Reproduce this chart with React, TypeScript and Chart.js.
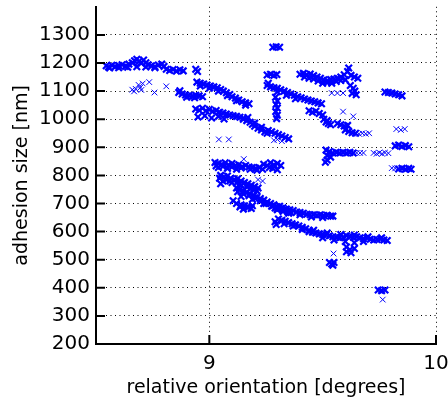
import React, { useEffect, useRef } from "react";
import { Chart, registerables } from "chart.js";

Chart.register(...registerables);

type P = [number, number];

const xTickValues = [9, 10];
const yTickValues = [200, 300, 400, 500, 600, 700, 800, 900, 1000, 1100, 1200, 1300];

// dense clusters (heavily overlapping measurements)
const bandA: P[] = [
  [8.545, 1190], [8.555, 1186], [8.57, 1192], [8.585, 1187], [8.6, 1191], [8.615, 1194], [8.63, 1188],
  [8.645, 1196], [8.66, 1201], [8.67, 1208], [8.68, 1213], [8.69, 1206], [8.7, 1199], [8.71, 1211],
  [8.72, 1201], [8.73, 1194], [8.745, 1190], [8.76, 1187], [8.775, 1193], [8.79, 1196], [8.8, 1188],
  [8.56, 1182], [8.6, 1183], [8.64, 1185], [8.68, 1187], [8.72, 1186], [8.76, 1183],
  [8.81, 1178], [8.825, 1173], [8.84, 1177], [8.855, 1171], [8.87, 1176], [8.885, 1172],
  [8.94, 1178], [8.948, 1170],
];
const bandB: P[] = [
  [8.865, 1095], [8.88, 1090], [8.895, 1086], [8.91, 1084], [8.925, 1082], [8.94, 1085], [8.955, 1083],
  [8.97, 1080], [8.87, 1101], [8.9, 1078], [8.935, 1076],
];
const bandC: P[] = [
  [8.945, 1132], [8.96, 1128], [8.975, 1125], [8.99, 1122], [9.005, 1118], [9.02, 1115], [9.035, 1112],
  [9.05, 1106], [9.062, 1100], [9.075, 1094], [9.09, 1088], [9.1, 1080], [9.115, 1075], [9.13, 1068],
  [9.145, 1062], [9.16, 1058], [9.175, 1055], [8.96, 1118], [9.0, 1110], [9.04, 1100], [9.08, 1084],
  [9.12, 1066], [9.16, 1050],
];
const bandD: P[] = [
  [8.94, 1036], [8.955, 1032], [8.97, 1039], [8.985, 1030], [9.0, 1035], [9.015, 1028], [9.03, 1031],
  [9.045, 1025], [9.06, 1022], [9.075, 1018], [9.09, 1015], [9.105, 1012], [9.12, 1010], [9.135, 1007],
  [9.15, 1004], [8.95, 1008], [8.98, 1012], [9.01, 1004], [9.04, 1010], [9.065, 1001],
];
const bandE: P[] = [
  [9.15, 1000], [9.165, 995], [9.18, 989], [9.19, 982], [9.2, 975], [9.215, 968], [9.23, 962],
  [9.245, 955], [9.255, 950], [9.17, 1006], [9.2, 986], [9.23, 971],
];
const bandF: P[] = [
  [9.26, 960], [9.275, 955], [9.29, 950], [9.305, 945], [9.32, 940], [9.335, 935], [9.35, 930],
];
const columnG: P[] = [
  [9.292, 1078], [9.3, 1065], [9.294, 1052], [9.3, 1040], [9.293, 1027], [9.3, 1014], [9.297, 1002],
  [9.255, 1157], [9.27, 1160], [9.285, 1156], [9.298, 1159], [9.28, 1256], [9.295, 1258], [9.31, 1256],
];
const bandG: P[] = [
  [9.255, 1120], [9.27, 1115], [9.285, 1112], [9.3, 1110], [9.315, 1105], [9.33, 1100], [9.345, 1095],
  [9.36, 1090], [9.375, 1085], [9.39, 1080], [9.405, 1076], [9.42, 1072], [9.435, 1068], [9.45, 1065],
  [9.465, 1062], [9.48, 1058], [9.495, 1055], [9.3, 1098], [9.34, 1085], [9.38, 1073], [9.26, 1128],
];
const bandH: P[] = [
  [9.4, 1160], [9.415, 1163], [9.43, 1158], [9.445, 1161], [9.46, 1155], [9.475, 1150], [9.49, 1146],
  [9.505, 1140], [9.52, 1138], [9.535, 1141], [9.55, 1143], [9.565, 1146], [9.58, 1150], [9.595, 1158],
  [9.61, 1170], [9.615, 1182], [9.625, 1156], [9.64, 1150], [9.655, 1146], [9.44, 1146], [9.48, 1136],
  [9.52, 1130], [9.56, 1134], [9.6, 1140],
  [9.42, 1150], [9.46, 1143], [9.5, 1128], [9.54, 1128], [9.58, 1138],
  [9.622, 1120], [9.635, 1110], [9.642, 1100], [9.63, 1092], [9.648, 1087],
];
const bandI: P[] = [
  [9.775, 1097], [9.79, 1095], [9.805, 1093], [9.82, 1090], [9.835, 1087], [9.85, 1083],
];
const bandJ: P[] = [
  [9.44, 1030], [9.455, 1025], [9.47, 1028], [9.485, 1020], [9.5, 1015], [9.505, 1000], [9.515, 990],
  [9.525, 985], [9.535, 980], [9.52, 995],
];
const bandK: P[] = [
  [9.565, 985], [9.58, 980], [9.595, 976], [9.61, 978], [9.6, 962], [9.615, 956], [9.63, 952],
  [9.645, 950],
];
const bandL: P[] = [
  [9.82, 905], [9.835, 908], [9.85, 903], [9.865, 906], [9.88, 902],
];
const bandM: P[] = [
  [9.515, 890], [9.53, 885], [9.545, 880], [9.52, 870], [9.535, 865], [9.52, 855], [9.512, 847],
  [9.56, 882], [9.575, 880], [9.59, 882], [9.605, 880], [9.62, 882], [9.635, 880],
];
const bandO: P[] = [
  [9.835, 823], [9.85, 825], [9.865, 822], [9.88, 825], [9.89, 822],
];
const bandQ: P[] = [
  [9.025, 846], [9.04, 842], [9.055, 840], [9.07, 845], [9.085, 838], [9.1, 842], [9.115, 835],
  [9.13, 838], [9.145, 832], [9.16, 835], [9.175, 830], [9.19, 828], [9.205, 825], [9.22, 828],
  [9.235, 822], [9.04, 828], [9.08, 825], [9.12, 822], [9.24, 840], [9.255, 835], [9.27, 845],
  [9.285, 838], [9.3, 842], [9.315, 835], [9.28, 825], [9.265, 828], [9.3, 820],
  [9.03, 834], [9.06, 832], [9.1, 830], [9.14, 826], [9.18, 822], [9.21, 818],
];
const bandR: P[] = [
  [9.05, 800], [9.065, 795], [9.08, 798], [9.095, 790], [9.11, 785], [9.125, 788], [9.14, 780],
  [9.155, 775], [9.17, 770], [9.185, 765], [9.2, 760], [9.215, 755], [9.06, 780], [9.1, 775],
  [9.14, 765], [9.18, 752], [9.05, 770],
  [9.045, 790], [9.075, 785], [9.09, 780], [9.12, 773], [9.135, 770], [9.165, 760], [9.195, 750],
  [9.21, 745],
];
const bandS: P[] = [
  [9.12, 755], [9.135, 750], [9.15, 745], [9.165, 740], [9.18, 735], [9.195, 728], [9.21, 722],
  [9.225, 718], [9.24, 712], [9.255, 705], [9.27, 700], [9.285, 695], [9.3, 688], [9.315, 682],
  [9.33, 678], [9.345, 672], [9.36, 668], [9.15, 735], [9.2, 720], [9.25, 700], [9.3, 680], [9.35, 665],
  [9.125, 742], [9.175, 728], [9.225, 710], [9.275, 690], [9.325, 672],
  [9.14, 725], [9.19, 715], [9.24, 700], [9.29, 684],
  [9.105, 710], [9.12, 700], [9.14, 695], [9.155, 692], [9.17, 690], [9.19, 692], [9.135, 688],
  [9.15, 680], [9.17, 685], [9.185, 682],
];
const bandT: P[] = [
  [9.28, 692], [9.295, 688], [9.31, 690], [9.325, 685], [9.34, 680], [9.355, 678], [9.37, 675],
  [9.385, 670], [9.4, 668], [9.415, 665], [9.43, 662], [9.445, 660], [9.46, 660], [9.475, 658],
  [9.49, 660], [9.505, 657], [9.52, 658], [9.535, 655], [9.545, 655],
  [9.3, 678], [9.35, 668], [9.4, 660], [9.45, 652], [9.5, 650],
];
const bandU: P[] = [
  [9.29, 635], [9.295, 625], [9.305, 645], [9.32, 640], [9.335, 637], [9.35, 632], [9.365, 628],
  [9.38, 624], [9.395, 620], [9.41, 615], [9.425, 610], [9.44, 605],
  [9.33, 628], [9.37, 620], [9.41, 608],
];
const bandV: P[] = [
  [9.44, 600], [9.455, 598], [9.47, 595], [9.485, 592], [9.5, 590], [9.515, 588], [9.53, 585],
  [9.545, 582], [9.56, 580], [9.575, 578], [9.59, 580], [9.605, 585], [9.62, 583], [9.635, 580],
  [9.65, 582], [9.665, 578], [9.68, 575], [9.695, 577], [9.71, 573], [9.725, 570], [9.74, 572],
  [9.755, 574], [9.77, 570], [9.785, 568], [9.5, 578], [9.55, 570], [9.6, 565], [9.64, 560], [9.68, 565],
  [9.46, 605], [9.52, 595], [9.58, 590], [9.64, 588], [9.7, 582], [9.76, 578],
];
const lowPoints: P[] = [
  [9.605, 545], [9.62, 535], [9.64, 540], [9.625, 525], [9.605, 528],
  [9.53, 490], [9.54, 485], [9.55, 490], [9.545, 480],
  [9.745, 392], [9.76, 390], [9.775, 392],
];

// isolated single measurements
const sparseCrosses: P[] = [
  [8.66, 1105], [8.668, 1099], [8.675, 1108], [8.688, 1122], [8.695, 1112], [8.7, 1104], [8.706, 1127],
  [8.735, 1132], [8.758, 1095], [8.81, 1117],
  [9.54, 1093], [9.565, 1093], [9.59, 1093],
  [9.042, 928], [9.086, 928], [9.285, 925], [9.3, 928], [9.32, 922],
  [9.59, 1027], [9.635, 1010],
  [9.548, 522], [9.765, 358],
  [9.66, 948], [9.675, 950], [9.69, 948], [9.705, 950],
  [9.65, 880], [9.665, 880], [9.68, 880],
  [9.725, 880], [9.738, 877], [9.75, 881], [9.762, 877], [9.775, 881], [9.79, 879],
  [9.805, 826], [9.82, 825],
  [9.825, 965], [9.845, 962], [9.862, 965],
  [9.152, 858], [9.215, 785], [9.235, 780],
];

const denseGroups: P[][] = [
  bandA, bandB, bandC, bandD, bandE, bandF, columnG, bandG, bandH, bandI, bandJ,
  bandK, bandL, bandM, bandO, bandQ, bandR, bandS, bandT, bandU, bandV, lowPoints,
];

const FONT = "'DejaVu Sans', sans-serif";
const BLUE = "rgb(0,0,255)";

const insideTicks = {
  id: "insideTicks",
  afterDraw(chart: any) {
    const { ctx, chartArea, scales } = chart;
    ctx.save();
    ctx.strokeStyle = "#000";
    ctx.lineWidth = 2;
    ctx.beginPath();
    for (const v of yTickValues) {
      const y = scales.y.getPixelForValue(v);
      ctx.moveTo(chartArea.left, y);
      ctx.lineTo(chartArea.left + 9, y);
    }
    for (const v of xTickValues) {
      const x = scales.x.getPixelForValue(v);
      ctx.moveTo(x, chartArea.bottom);
      ctx.lineTo(x, chartArea.bottom - 9);
    }
    ctx.stroke();
    ctx.restore();
  },
};

export default function App() {
  const ref = useRef<HTMLCanvasElement | null>(null);

  useEffect(() => {
    document.body.style.margin = "0";
    const canvas = ref.current;
    if (!canvas) return;
    const toXY = (g: P[]) => g.map(([x, y]) => ({ x, y }));
    const chart = new Chart(canvas, {
      type: "scatter",
      data: {
        datasets: [
          {
            data: toXY(denseGroups.flat()),
            pointStyle: "crossRot",
            pointRadius: 4.6,
            borderWidth: 2.2,
            borderColor: BLUE,
            backgroundColor: BLUE,
          },
          {
            data: toXY(sparseCrosses),
            pointStyle: "crossRot",
            pointRadius: 4,
            borderWidth: 1,
            borderColor: BLUE,
            backgroundColor: BLUE,
          },
        ],
      },
      options: {
        animation: false,
        responsive: false,
        events: [],
        layout: { padding: { left: 0, right: 12, top: 5, bottom: 0 } },
        plugins: { legend: { display: false }, tooltip: { enabled: false } },
        scales: {
          x: {
            type: "linear",
            min: 8.5,
            max: 10,
            afterBuildTicks: (s: any) => {
              s.ticks = xTickValues.map((v) => ({ value: v }));
            },
            afterFit: (s: any) => {
              s.height = 58;
              s.paddingLeft = 0;
              s.paddingRight = 0;
            },
            grid: { color: "#000", lineWidth: 1, drawTicks: false },
            border: { display: true, color: "#000", width: 2, dash: [1, 3.5] },
            ticks: {
              color: "#000",
              font: { family: FONT, size: 20 },
              padding: 8,
              maxRotation: 0,
              autoSkip: false,
              callback: (v: any) => String(v),
            },
            title: {
              display: true,
              text: "relative orientation [degrees]",
              color: "#000",
              font: { family: FONT, size: 19 },
              padding: { top: 0, bottom: 3 },
            },
          },
          y: {
            type: "linear",
            min: 200,
            max: 1400,
            afterBuildTicks: (s: any) => {
              s.ticks = yTickValues.map((v) => ({ value: v }));
            },
            afterFit: (s: any) => {
              s.width = 96;
              s.paddingTop = 0;
              s.paddingBottom = 0;
            },
            grid: { color: "#000", lineWidth: 1, drawTicks: false },
            border: { display: true, color: "#000", width: 2, dash: [1, 3.5] },
            ticks: {
              color: "#000",
              font: { family: FONT, size: 20 },
              padding: 6,
              autoSkip: false,
              callback: (v: any) => String(v),
            },
            title: {
              display: true,
              text: "adhesion size [nm]",
              color: "#000",
              font: { family: FONT, size: 19 },
              padding: { top: 11, bottom: 0 },
            },
          },
        },
      },
      plugins: [insideTicks],
    });
    return () => chart.destroy();
  }, []);

  return (
    <div style={{ position: "absolute", left: 0, top: 0, width: 448, height: 402 }}>
      <canvas ref={ref} width={448} height={402} />
    </div>
  );
}
